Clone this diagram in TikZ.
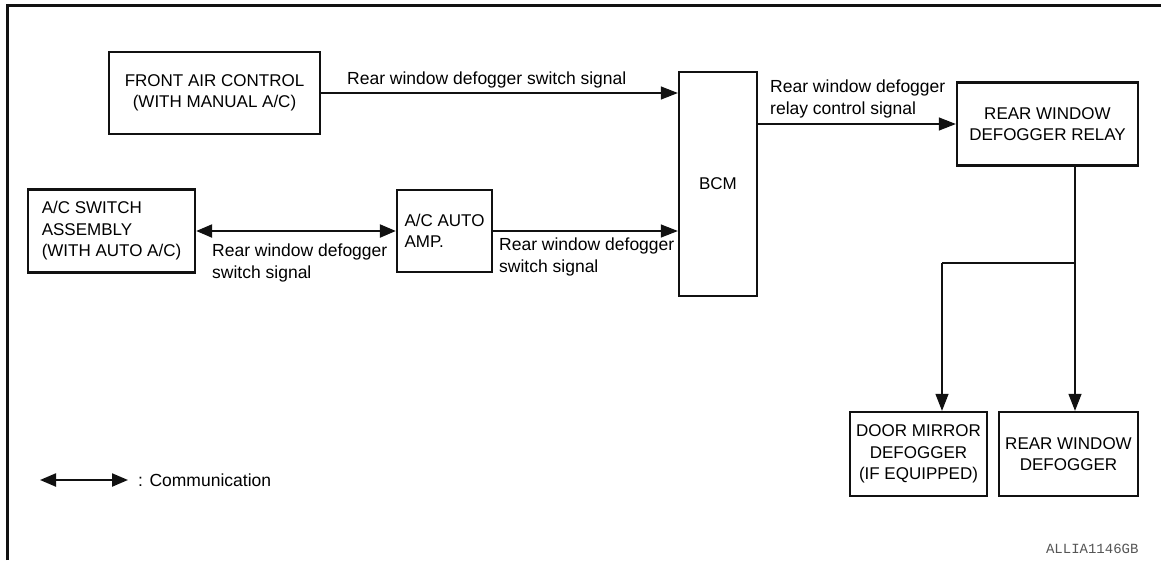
\documentclass[tikz,border=0pt]{standalone}
\usepackage{fontspec}
\setmainfont{Liberation Sans}
\setmonofont{Liberation Mono}
\usetikzlibrary{arrows.meta,positioning,calc}
\definecolor{ink}{HTML}{111111}
\definecolor{muted}{HTML}{555555}
\tikzset{
  block/.style={draw=ink, line width=2.3pt, align=center, inner sep=0pt,
                font=\fontsize{17}{21.5}\selectfont},
  arrow/.style={-{Triangle[length=17pt,width=13pt]}, line width=1.2pt, draw=ink},
  comm/.style={{Triangle[length=16pt,width=13pt]}-{Triangle[length=16pt,width=13pt]},
               line width=2.2pt, draw=ink},
  sig/.style={align=left, inner sep=0pt, anchor=west,
              font=\fontsize{17.5}{22}\selectfont}
}

\begin{document}
\begin{tikzpicture}[x=1pt,y=-1pt]
  \useasboundingbox (0,0) rectangle (1161,560);
  % frame, only top and left edges
  \draw[draw=ink,line width=3pt] (7.5,560) -- (7.5,5.5) -- (1161,5.5);

  \node[block, minimum width=211pt, minimum height=82pt] (front) at (214.5,93)
    {FRONT AIR CONTROL\\(WITH MANUAL A/C)};
  \node[block, minimum width=167pt, minimum height=83pt, align=left]
    (acsw) at (111.5,231) {A/C SWITCH\\ASSEMBLY\\(WITH AUTO A/C)};
  \node[block, minimum width=95pt, minimum height=82pt, align=left]
    (amp) at (444.5,231) {A/C AUTO\\AMP.};
  \node[block, minimum width=78pt, minimum height=224pt] (bcm) at (718,184) {BCM};
  \node[block, minimum width=181pt, minimum height=83pt] (relay) at (1047.5,124)
    {REAR WINDOW\\DEFOGGER RELAY};
  \node[block, minimum width=137pt, minimum height=84pt] (mirror) at (918.5,454)
    {DOOR MIRROR\\DEFOGGER\\(IF EQUIPPED)};
  \node[block, minimum width=139pt, minimum height=84pt] (rwd) at (1068.5,454)
    {REAR WINDOW\\DEFOGGER};

  % signals
  \draw[arrow] (front.east) -- (front.east -| bcm.west);
  \draw[comm] (acsw.east) -- (amp.west);
  \draw[arrow] (amp.east) -- (amp.east -| bcm.west);
  \draw[arrow] (bcm.east |- relay.west) -- (relay.west);

  \coordinate (split) at (1075,263);
  \coordinate (tap) at (942,263);
  \draw[draw=ink,line width=1.2pt] (relay.south -| split) -- (split) -- (tap);
  \draw[arrow] (split) -- (split |- rwd.north);
  \draw[arrow] (tap) -- (tap |- mirror.north);

  \node[sig] (lfront) at (347,80) {Rear window defogger switch signal};
  \node[sig] (lacsw) at (212,263) {Rear window defogger\\switch signal};
  \node[sig] (lamp) at (499,257) {Rear window defogger\\switch signal};
  \node[sig] (lrelay) at (770,98.5) {Rear window defogger\\relay control signal};

  % legend
  \coordinate (ka) at (40,480);
  \coordinate (kb) at (128,480);
  \draw[comm] (ka) -- (kb);
  \node[sig, right=10pt of kb] (key) {: Communication};

  \node[font=\ttfamily\fontsize{14}{14}\selectfont, text=muted, anchor=east]
    (code) at (1142,549) {ALLIA1146GB};
\end{tikzpicture}
\end{document}
